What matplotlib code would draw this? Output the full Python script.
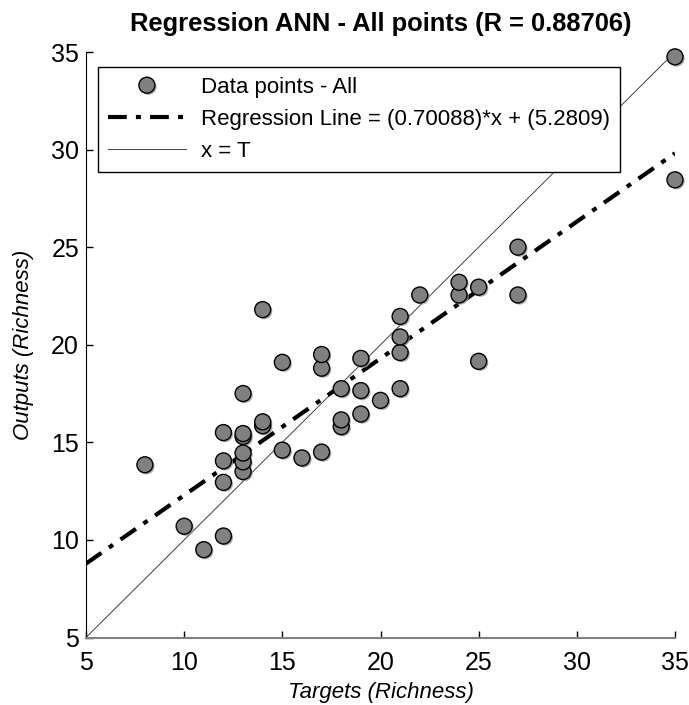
import numpy as np
import matplotlib
matplotlib.use("Agg")
import matplotlib.pyplot as plt
import matplotlib.patheffects as pe

plt.rcParams['font.family'] = ['Liberation Sans', 'DejaVu Sans']

# Data
targets = [8, 10, 11,
           12, 12, 12, 12,
           13, 13, 13, 13, 13, 13,
           14, 14, 14,
           15, 15,
           16,
           17, 17, 17,
           18, 18, 18,
           19, 19, 19,
           20,
           21, 21, 21, 21,
           22,
           24, 24,
           25, 25,
           27, 27,
           35, 35]
outputs = [13.85, 10.7, 9.5,
           10.2, 12.95, 14.05, 15.5,
           13.5, 14.0, 14.45, 15.3, 15.45, 17.5,
           15.85, 16.05, 21.8,
           14.6, 19.1,
           14.2,
           14.5, 18.8, 19.5,
           15.8, 16.15, 17.75,
           16.45, 17.65, 19.3,
           17.15,
           17.75, 19.6, 20.4, 21.45,
           22.55,
           22.55, 23.2,
           19.15, 22.95,
           22.55, 25.0,
           28.45, 34.75]
slope = 0.70088
intercept = 5.2809
r_value = 0.88706
x_range = [5, 35]
ticks = [5, 10, 15, 20, 25, 30, 35]

fig = plt.figure(figsize=(6.89, 7.05), dpi=100)
ax = fig.add_axes([86/689, 1-637.5/705, (675-86)/689, (637.5-52)/705])

xr = np.array(x_range, dtype=float)
ax.plot(xr, xr, color='#404040', lw=0.7, zorder=2, label='x = T')
ax.plot(xr, slope*xr + intercept, color='black', lw=3, zorder=3,
        dashes=(4.5, 2.2, 1.2, 2.2),
        label='Regression Line = (%.5f)*x + (%.4f)' % (slope, intercept))
ax.plot(targets, outputs, 'o', ms=11.5, mfc='#808080', mec='black', mew=1.0,
        zorder=4, label='Data points - All', clip_on=False,
        path_effects=[pe.SimplePatchShadow(offset=(1.2, -1.2), shadow_rgbFace='#999999', alpha=0.8), pe.Normal()])

ax.set_xlim(5, 35)
ax.set_ylim(5, 35)
ax.set_xticks(ticks)
ax.set_yticks(ticks)
ax.tick_params(direction='in', length=5, width=1, labelsize=18)
ax.tick_params(axis='x', pad=10)
ax.tick_params(axis='y', pad=5)
ax.spines['top'].set_visible(False)
ax.spines['right'].set_visible(False)
ax.spines['left'].set_color('black')
ax.spines['bottom'].set_color('#808080')
ax.spines['bottom'].set_linewidth(1.5)

ax.set_xlabel('Targets (Richness)', fontsize=16, style='italic', labelpad=5)
ax.set_ylabel('Outputs (Richness)', fontsize=16, style='italic', labelpad=12)
ax.set_title('Regression ANN - All points (R = %.5f)' % r_value, fontsize=18.4,
             fontweight='bold', pad=15)

h, l = ax.get_legend_handles_labels()
order = [2, 1, 0]
leg = ax.legend([h[i] for i in order], [l[i] for i in order],
                loc='upper left', bbox_to_anchor=(12/589, 1-15/585.5), fontsize=16,
                frameon=True, fancybox=False, edgecolor='black', framealpha=1,
                handlelength=3.5, borderpad=0.45, labelspacing=0.5,
                handletextpad=0.7, borderaxespad=0)
leg.get_frame().set_linewidth(1.0)

fig.savefig('out.png', dpi=100)
